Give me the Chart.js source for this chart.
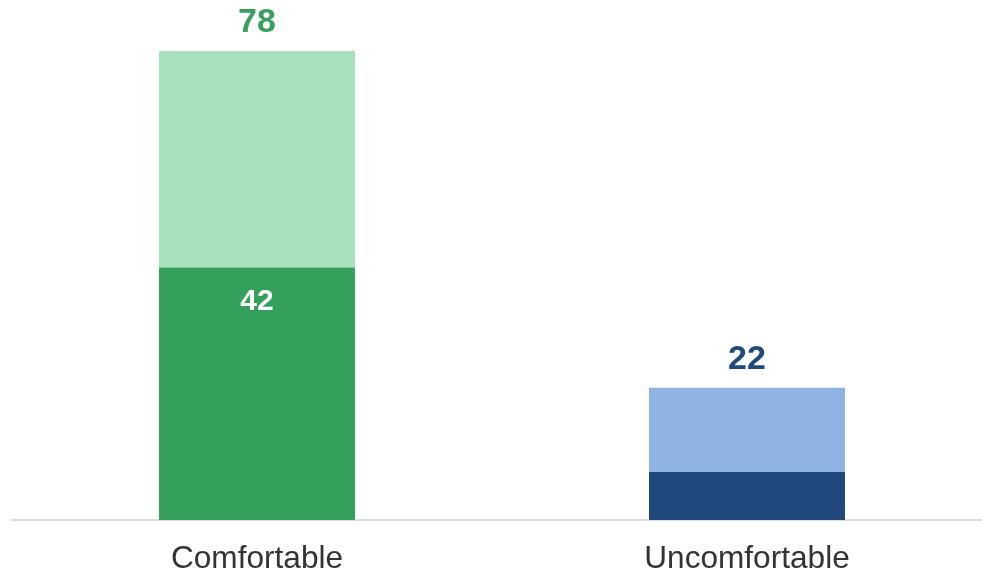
<!DOCTYPE html>
<html>
<head>
  <title>Comfort</title>
  <script src="https://cdn.jsdelivr.net/npm/chart.js"></script>
  <style>
    body { margin: 0; overflow: hidden; background: #fff; }
  </style>
</head>
<body>
  <canvas id="comfortChart" width="992" height="598"></canvas>
  <script>
    // data
    var categories = ['Comfortable', 'Uncomfortable'];
    var strongValues = [42, 8];
    var mildValues = [36, 14];
    var showInner = [true, false];

    var darkColors = ['#35a05c', '#1f497d'];
    var lightColors = ['#a6e1bb', '#8fb3e2'];

    // totals on top, value of the dark segment inside (when it fits)
    var barLabels = {
      id: 'barLabels',
      afterDatasetsDraw(chart) {
        var ctx = chart.ctx;
        var bottomMeta = chart.getDatasetMeta(0);
        var topMeta = chart.getDatasetMeta(1);
        ctx.save();
        ctx.textAlign = 'center';
        ctx.textBaseline = 'alphabetic';
        categories.forEach(function (c, i) {
          var total = strongValues[i] + mildValues[i];
          var topBar = topMeta.data[i];
          ctx.font = 'bold 34px "Liberation Sans", Arial, sans-serif';
          ctx.fillStyle = darkColors[i];
          ctx.fillText(total, topBar.x, topBar.y - 19);
          if (showInner[i]) {
            var b = bottomMeta.data[i];
            ctx.font = 'bold 30px "Liberation Sans", Arial, sans-serif';
            ctx.fillStyle = '#ffffff';
            ctx.fillText(strongValues[i], b.x, b.y + 43);
          }
        });
        ctx.restore();
      }
    };

    new Chart(document.getElementById('comfortChart'), {
      type: 'bar',
      data: {
        labels: categories,
        datasets: [{
          data: strongValues,
          backgroundColor: darkColors,
          borderWidth: 0
        }, {
          data: mildValues,
          backgroundColor: lightColors,
          borderWidth: 0
        }]
      },
      options: {
        responsive: false,
        animation: false,
        devicePixelRatio: 1,
        barPercentage: 0.4,
        categoryPercentage: 1,
        layout: { padding: { top: 51, left: 12, right: 0, bottom: 0 } },
        plugins: {
          legend: { display: false },
          tooltip: { enabled: false }
        },
        scales: {
          x: {
            stacked: true,
            grid: { display: false, drawTicks: false },
            border: { color: '#dddddd', width: 2 },
            ticks: {
              color: '#333333',
              padding: 20,
              font: { size: 31.6, family: '"Liberation Sans", Arial, sans-serif' }
            }
          },
          y: {
            stacked: true,
            display: false,
            min: 0,
            max: 78
          }
        }
      },
      plugins: [barLabels]
    });
  </script>
</body>
</html>
